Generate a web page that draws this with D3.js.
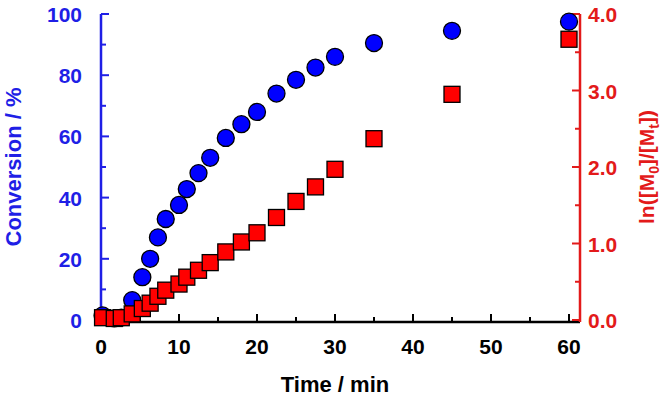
<!DOCTYPE html>
<html><head><meta charset="utf-8">
<script src="https://cdn.jsdelivr.net/npm/d3@7"></script>
<style>body{margin:0;background:#fff}</style>
</head><body>
<script>
const times = [0.2, 1.7, 2.6, 4, 5.3, 6.3, 7.3, 8.3, 10, 11, 12.5, 14, 16, 18, 20, 22.5, 25, 27.5, 30, 35, 45, 60];
const conversion = [1.5, 0.5, 0.8, 6.5, 14, 20, 27, 33, 37.6, 42.8, 48, 53, 59.5, 64, 68, 74, 78.5, 82.5, 86, 90.5, 94.5, 97.5];
const lnRatio = [0.03, 0.02, 0.03, 0.08, 0.15, 0.22, 0.31, 0.39, 0.47, 0.56, 0.65, 0.75, 0.89, 1.02, 1.14, 1.34, 1.55, 1.74, 1.97, 2.37, 2.95, 3.67];
const xTicks = [0, 10, 20, 30, 40, 50, 60];
const leftTicks = [0, 20, 40, 60, 80, 100];
const rightTicks = [0, 1, 2, 3, 4];

const svg = d3.select("body").append("svg").attr("width", 667).attr("height", 401)
    .style("font-family", "Arial, 'Liberation Sans', sans-serif").style("font-weight", "bold");

const x = d3.scaleLinear().domain([0, 60]).range([101, 569]);
const yL = d3.scaleLinear().domain([0, 100]).range([320, 14]);
const yR = d3.scaleLinear().domain([0, 4]).range([320, 14]);
const xEnd = 580, base = 322;

// bottom axis
svg.append("line").attr("x1", 101).attr("x2", xEnd).attr("y1", base).attr("y2", base).attr("stroke", "#000").attr("stroke-width", 2.5);
d3.range(0, 61, 5).forEach(t => {
    svg.append("line").attr("x1", x(t)).attr("x2", x(t)).attr("y1", base).attr("y2", base - (t % 10 ? 5 : 8))
        .attr("stroke", "#000").attr("stroke-width", 2);
});
xTicks.forEach(t => svg.append("text").attr("x", x(t)).attr("y", 354).attr("text-anchor", "middle")
    .attr("font-size", 21).text(t));
svg.append("text").attr("x", 335).attr("y", 392).attr("text-anchor", "middle").attr("font-size", 22).text("Time / min");

// left axis
const blue = "#1f1fe6", red = "#e31a1a";
svg.append("line").attr("x1", 101).attr("x2", 101).attr("y1", yL(100)).attr("y2", base).attr("stroke", blue).attr("stroke-width", 2.5);
d3.range(0, 101, 10).forEach(v => svg.append("line").attr("x1", 101).attr("x2", 101 + (v % 20 ? 5 : 8))
    .attr("y1", yL(v)).attr("y2", yL(v)).attr("stroke", blue).attr("stroke-width", 2));
leftTicks.forEach(v => svg.append("text").attr("x", 82).attr("y", yL(v) + 8).attr("text-anchor", "end")
    .attr("font-size", 21).attr("fill", blue).text(v));
svg.append("text").attr("transform", `translate(21,${yL(50)}) rotate(-90)`).attr("text-anchor", "middle")
    .attr("font-size", 22).attr("fill", blue).text("Conversion / %");

// right axis
svg.append("line").attr("x1", xEnd).attr("x2", xEnd).attr("y1", yR(4)).attr("y2", base).attr("stroke", red).attr("stroke-width", 2.5);
d3.range(0, 4.01, 0.5).forEach(v => svg.append("line").attr("x1", xEnd).attr("x2", xEnd - (v % 1 ? 5 : 8))
    .attr("y1", yR(v)).attr("y2", yR(v)).attr("stroke", red).attr("stroke-width", 2));
rightTicks.forEach(v => svg.append("text").attr("x", 588).attr("y", yR(v) + 8)
    .attr("font-size", 21).attr("fill", red).text(v.toFixed(1)));
const rl = svg.append("text").attr("transform", `translate(654,${yR(2)}) rotate(-90)`).attr("text-anchor", "middle")
    .attr("font-size", 21).attr("fill", red);
rl.append("tspan").text("ln([M");
rl.append("tspan").attr("font-size", 14).attr("dy", 5).text("0");
rl.append("tspan").attr("dy", -5).text("]/[M");
rl.append("tspan").attr("font-size", 14).attr("dy", 5).text("t");
rl.append("tspan").attr("dy", -5).text("])");

// data
svg.selectAll("circle").data(times).join("circle")
    .attr("cx", (d) => x(d)).attr("cy", (d, i) => yL(conversion[i])).attr("r", 8.5)
    .attr("fill", "#0000ff").attr("stroke", "#000").attr("stroke-width", 1.3);
svg.selectAll("rect.sq").data(times).join("rect").attr("class", "sq")
    .attr("x", (d) => x(d) - 8).attr("y", (d, i) => yR(lnRatio[i]) - 8).attr("width", 16).attr("height", 16)
    .attr("fill", "#ff0000").attr("stroke", "#000").attr("stroke-width", 1.3);
</script>
</body></html>
